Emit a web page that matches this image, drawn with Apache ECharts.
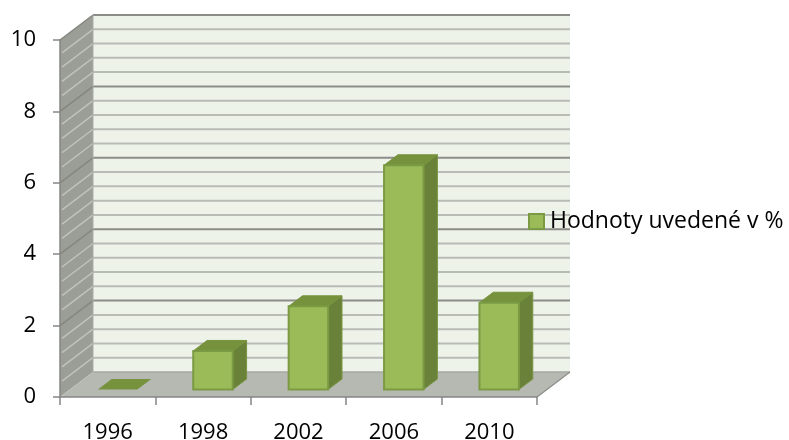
<!DOCTYPE html>
<html><head><meta charset="utf-8">
<style>html,body{margin:0;padding:0;background:#fff}#c{width:789px;height:440px}</style>
<script src="https://cdn.jsdelivr.net/npm/echarts@6/dist/echarts.min.js"></script>
</head><body><div id="c"></div>
<script>
const categories = ['1996','1998','2002','2006','2010'];
const seriesName = 'Hodnoty uvedené v %';
const values = [0, 1.08, 2.33, 6.28, 2.43];
const gridLevels = [0,0.4,0.8,1.2,1.6,2,2.4,2.8,3.2,3.6,4,4.4,4.8,5.2,5.6,6,6.4,6.8,7.2,7.6,8,8.4,8.8,9.2,9.6,10];
const majorLevels = [0,2,4,6,8,10];
const DX = 33, DY = -25;       // full depth of the 3D box
const F0 = 0.30, F1 = 0.72;    // bar depth range within box
const FONT = 'Open Sans';

const chart = echarts.init(document.getElementById('c'), null, {renderer:'canvas'});

function poly(points, fill, stroke, lw){
  return {type:'polygon', shape:{points}, style:{fill, stroke:stroke||null, lineWidth:lw||0}};
}
function line(p, q, color, w){
  return {type:'line', shape:{x1:p[0],y1:p[1],x2:q[0],y2:q[1]}, style:{stroke:color, lineWidth:w}};
}

function renderWalls(params, api){
  const c = params.coordSys;
  const x0=c.x, x1=c.x+c.width, yb=c.y+c.height, yt=c.y;
  const children=[
    poly([[x0,yt],[x0+DX,yt+DY],[x0+DX,yb+DY],[x0,yb]],'#9b9d97'),
    poly([[x0+DX,yt+DY],[x1+DX,yt+DY],[x1+DX,yb+DY],[x0+DX,yb+DY]],'#eef3ea'),
    poly([[x0,yb],[x0+DX,yb+DY],[x1+DX,yb+DY],[x1,yb]],'#b6b8b2')
  ];
  gridLevels.forEach(v=>{
    if(v===0) return;
    const y=api.coord([0,v])[1];
    const major=majorLevels.indexOf(v)>=0;
    children.push(line([x0+DX,y+DY],[x1+DX,y+DY], major?'#8b8d88':'#b9bbb6', 2));
    children.push(line([x0+(major?0:2),y-(major?0:1.5)],[x0+DX,y+DY], major?'#85877f':'#c0c2bd', 1.5));
  });
  children.push(line([x0+DX,yb+DY],[x1+DX,yb+DY],'#a6a8a3',1.5));
  children.push(line([x0+DX,yt+DY],[x0+DX,yb+DY],'#a9aba6',1));
  children.push(line([x1,yb],[x1+DX,yb+DY],'#8f918c',1.5));
  return {type:'group',children};
}

function renderBar(params, api){
  const i=api.value(0), v=api.value(1);
  const base=api.coord([i,0]), top=api.coord([i,v]);
  const w=api.size([1,0])[0]*0.414;
  const xl=base[0]-w/2+DX*F0, xr=xl+w;
  const yb=base[1]+DY*F0, yt=top[1]+DY*F0;
  const ox=DX*(F1-F0), oy=DY*(F1-F0);
  const children=[];
  if(v>0){
    children.push(poly([[xr,yt],[xr+ox,yt+oy],[xr+ox,yb+oy],[xr,yb]],'#6a8139','#7a9644',1));
  }
  children.push(poly([[xl,yt],[xr,yt],[xr+ox,yt+oy],[xl+ox,yt+oy]],'#76923c', v>0?'#76923c':null, 1));
  if(v>0){
    children.push(poly([[xl,yt],[xr,yt],[xr,yb],[xl,yb]],'#9bbb59','#7a9a43',2));
  }
  return {type:'group',children};
}

chart.setOption({
  animation:false,
  textStyle:{fontFamily:FONT},
  grid:{left:60,width:477,top:40,height:357,outerBoundsMode:'none'},
  legend:{
    data:[{name:seriesName,icon:'rect',itemStyle:{color:'#9bbb59',borderColor:'#7a9a43',borderWidth:2}}],
    left:528, top:210, itemWidth:15, itemHeight:15, selectedMode:false,
    padding:0,
    textStyle:{fontFamily:FONT,fontSize:23,color:'#000',padding:[0,0,0,1]}
  },
  xAxis:{
    type:'category', data:categories, boundaryGap:true,
    axisLine:{lineStyle:{color:'#868686',width:1.5}},
    axisTick:{show:true,alignWithLabel:false,length:8,lineStyle:{color:'#868686',width:1.5}},
    axisLabel:{fontFamily:FONT,fontSize:22,color:'#000',margin:25,interval:0}
  },
  yAxis:{
    type:'value', min:0, max:10, interval:2,
    splitLine:{show:false},
    axisLine:{show:true,lineStyle:{color:'#868686',width:1.5}},
    axisTick:{show:true,length:7,lineStyle:{color:'#868686',width:1.5}},
    axisLabel:{fontFamily:FONT,fontSize:22,color:'#000',margin:24,padding:[6,0,0,0]}
  },
  series:[
    {type:'custom',name:'walls',silent:true,z:0,clip:false,renderItem:renderWalls,data:[[0,0]],encode:{x:0,y:1}},
    {type:'custom',name:seriesName,z:3,clip:false,renderItem:renderBar,
     itemStyle:{color:'#9bbb59'},
     data:values.map((v,i)=>[i,v]),encode:{x:0,y:1}}
  ]
});
</script></body></html>
